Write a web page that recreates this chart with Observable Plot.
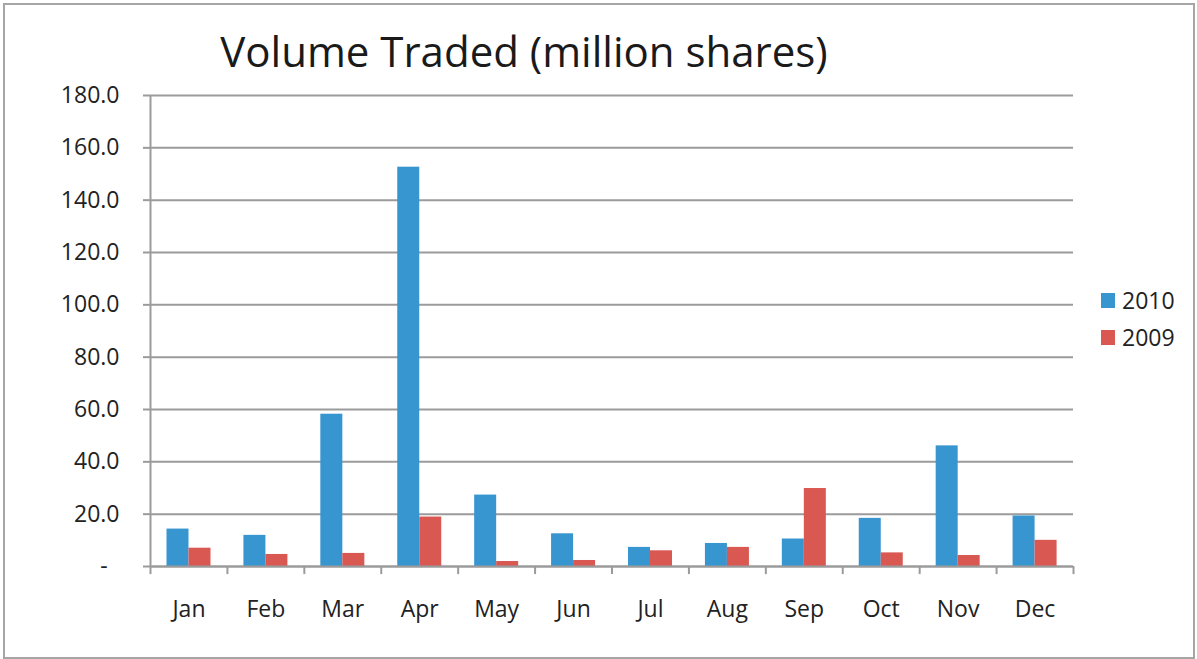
<!DOCTYPE html>
<html>
<head>
<meta charset="utf-8">
<script src="https://cdn.jsdelivr.net/npm/d3@7"></script>
<script src="https://cdn.jsdelivr.net/npm/@observablehq/plot@0.6"></script>
<style>
  body { margin: 0; background: #fff; }
  #wrap { position: relative; width: 1197px; height: 659px; }
  #border { position: absolute; left: 3px; top: 3px; width: 1188px; height: 652px; border: 2px solid #a6a6a6; pointer-events: none; }
</style>
</head>
<body>
<div id="wrap"><div id="border"></div></div>
<script>
const title = "Volume Traded (million shares)";
const months = ["Jan","Feb","Mar","Apr","May","Jun","Jul","Aug","Sep","Oct","Nov","Dec"];
const vol2010 = [14.3, 11.9, 58.2, 152.6, 27.3, 12.5, 7.3, 8.8, 10.5, 18.4, 46.1, 19.3];
const vol2009 = [7.0, 4.6, 5.0, 18.9, 1.9, 2.3, 6.0, 7.3, 29.8, 5.2, 4.2, 10.0];
const seriesNames = ["2010", "2009"];
const seriesColors = ["#3795cf", "#d95852"];
const yTicks = [0, 20, 40, 60, 80, 100, 120, 140, 160, 180];

const table = months.map((m, i) => ({month: m, v2010: vol2010[i], v2009: vol2009[i]}));

const W = 1197, H = 659;
const mL = 150, mR = 124, mT = 95, mB = 93;
const bw = (W - mL - mR) / months.length;
const gridColor = "#9b9b9b";

const chart = Plot.plot({
  width: W, height: H,
  marginLeft: mL, marginRight: mR, marginTop: mT, marginBottom: mB,
  style: {fontFamily: "'Open Sans', sans-serif", fontSize: "23px", color: "#222", background: "transparent"},
  x: {domain: months, padding: 0, round: false, axis: null, label: null},
  y: {domain: [0, 180], axis: null, label: null},
  marks: [
    Plot.gridY(yTicks, {stroke: gridColor, strokeOpacity: 1, strokeWidth: 2}),
    Plot.axisY(yTicks, {tickSize: 7, tickPadding: 24, stroke: gridColor, strokeWidth: 2, fill: "#222", label: null,
      tickFormat: d => d === 0 ? "-\u00a0\u00a0" : d.toFixed(1)}),
    Plot.barY(table, {x: "month", y: "v2010", fill: seriesColors[0], insetLeft: 16.5, insetRight: bw - 38.5}),
    Plot.barY(table, {x: "month", y: "v2009", fill: seriesColors[1], insetLeft: 38.5, insetRight: bw - 60.5}),
    Plot.ruleX(months, {x: d => d, dx: -bw / 2, y1: -3.1, y2: 0, stroke: gridColor, strokeWidth: 2}),
    Plot.ruleX([months[months.length - 1]], {x: d => d, dx: bw / 2, y1: -3.1, y2: 0, stroke: gridColor, strokeWidth: 2}),
    Plot.ruleX([months[0]], {x: d => d, dx: -bw / 2, y1: 0, y2: 180, stroke: gridColor, strokeWidth: 2}),
    Plot.ruleY([0], {stroke: gridColor, strokeWidth: 2}),
    Plot.axisX({tickSize: 0, tickPadding: 34, fill: "#222", label: null})
  ]
});
chart.style.position = "absolute";
chart.style.left = "0px";
chart.style.top = "0px";
document.getElementById("wrap").prepend(chart);

const svg = d3.select(chart);
svg.append("text")
  .attr("x", 524).attr("y", 67)
  .attr("text-anchor", "middle")
  .attr("font-size", 42)
  .attr("fill", "#1a1a1a")
  .text(title);

const leg = svg.append("g").attr("text-anchor", "start");
seriesNames.forEach((s, i) => {
  const y0 = 293 + i * 37;
  leg.append("rect").attr("x", 1101).attr("y", y0).attr("width", 14).attr("height", 15).attr("fill", seriesColors[i]);
  leg.append("text").attr("x", 1122).attr("y", y0 + 16).attr("text-anchor", "start").attr("font-size", 23).attr("fill", "#222").text(s);
});
</script>
</body>
</html>
